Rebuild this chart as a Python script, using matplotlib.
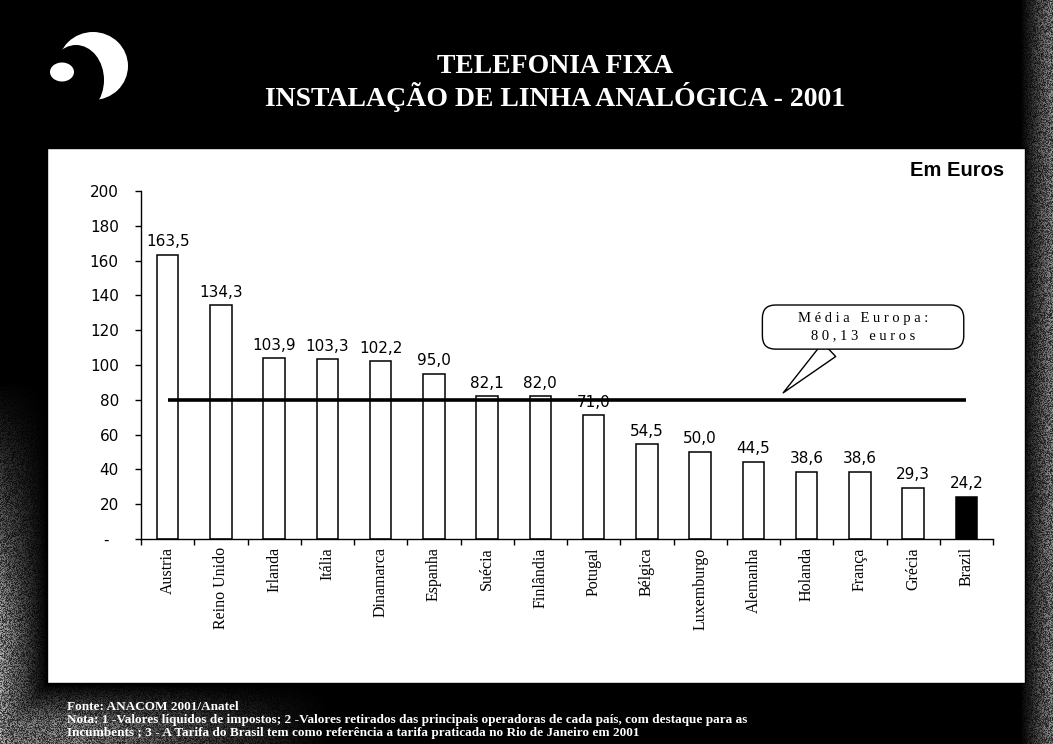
import numpy as np
import matplotlib
matplotlib.use("Agg")
import matplotlib.pyplot as plt
from matplotlib.patches import Rectangle, Ellipse

paises = ["Austria", "Reino Unido", "Irlanda", "Itália", "Dinamarca", "Espanha",
          "Suécia", "Finlândia", "Potugal", "Bélgica", "Luxemburgo", "Alemanha",
          "Holanda", "França", "Grécia", "Brazil"]
valores = [163.5, 134.3, 103.9, 103.3, 102.2, 95.0, 82.1, 82.0, 71.0, 54.5,
           50.0, 44.5, 38.6, 38.6, 29.3, 24.2]
media_europa = 80.13
yticks = [0, 20, 40, 60, 80, 100, 120, 140, 160, 180, 200]
ytick_labels = ["-  ", "20", "40", "60", "80", "100", "120", "140", "160", "180", "200"]

W, H = 1053, 744
fig = plt.figure(figsize=(W / 100, H / 100), dpi=100, facecolor="black")

# slide background in pixel coordinates
bg = fig.add_axes([0, 0, 1, 1], zorder=0)
bg.set_xlim(0, W)
bg.set_ylim(H, 0)
bg.axis("off")

# grainy scan edges
rng = np.random.default_rng(3)
xx, yy = np.meshgrid(np.arange(W), np.arange(H))
left = np.clip((47 - xx) / 47, 0, 1) * np.clip((yy - 380) / 250, 0, 1)
right = np.clip((xx - 1020) / 30, 0, 1) * 0.8
bottom = np.clip((yy - 683) / 40, 0, 1) * np.clip((330 - xx) / 250, 0, 1)
mask = np.maximum(np.maximum(left, right), bottom * 0.8)
tex = mask * rng.uniform(0.15, 0.75, size=(H, W))
bg.imshow(tex, cmap="gray", vmin=0, vmax=1, extent=(0, W, H, 0),
          aspect="auto", interpolation="nearest", zorder=0)

# white chart panel
bg.add_patch(Rectangle((47, 148), 978, 535, facecolor="white",
                       edgecolor="black", linewidth=1, zorder=1))

# logo
bg.add_patch(Ellipse((93, 66), 70, 68, facecolor="white", edgecolor="none", zorder=2))
bg.add_patch(Ellipse((76, 80), 56, 70, facecolor="black", edgecolor="none", zorder=3))
bg.add_patch(Ellipse((62, 72), 24, 19, facecolor="white", edgecolor="none", zorder=4))

fig.text(0.527, 0.911, "TELEFONIA FIXA", color="white", ha="center", va="center",
         fontsize=20, fontweight="bold", family="Liberation Serif")
fig.text(0.527, 0.869, "INSTALAÇÃO DE LINHA ANALÓGICA - 2001", color="white",
         ha="center", va="center", fontsize=20, fontweight="bold",
         family="Liberation Serif")
fig.text(0.954, 0.7715, "Em Euros", ha="right", va="center", fontsize=14.5,
         fontweight="bold", family="Liberation Sans")

notas = ["Fonte: ANACOM 2001/Anatel",
         "Nota: 1 -Valores líquidos de impostos; 2 -Valores retirados das principais "
         "operadoras de cada país, com destaque para as",
         "Incumbents ; 3 - A Tarifa do Brasil tem como referência a tarifa praticada "
         "no Rio de Janeiro em 2001"]
for i, linha in enumerate(notas):
    fig.text(0.0636, 0.050 - i * 0.0175, linha, color="white", ha="left",
             va="center", fontsize=9.5, fontweight="bold", family="Liberation Serif")

# bar chart
ax = fig.add_axes([141 / W, 1 - 539 / H, 852 / W, 348 / H], zorder=2)
ax.patch.set_alpha(0)
x = np.arange(len(paises))
cores = ["white"] * (len(paises) - 1) + ["black"]
ax.bar(x, valores, width=0.4, color=cores, edgecolor="black",
       linewidth=1.1, zorder=2)
for xi, v in zip(x, valores):
    ax.annotate(f"{v:.1f}".replace(".", ","), (xi, v), xytext=(0, 4),
                textcoords="offset points", ha="center", va="bottom",
                fontsize=11, family="DejaVu Sans")

ax.hlines(media_europa, x[0], x[-1], color="black", linewidth=2.6, zorder=3)

ax.annotate("        M é d i a   E u r o p a :        \n8 0 , 1 3   e u r o s",
            xy=(11.56, 84), xytext=(13.06, 121.8),
            ha="center", va="center", multialignment="center",
            fontsize=10.5, family="Liberation Serif", linespacing=1.5,
            bbox=dict(boxstyle="round,pad=0.45,rounding_size=0.9", fc="white",
                      ec="black", lw=1),
            arrowprops=dict(arrowstyle="wedge,tail_width=1.3", fc="white",
                            ec="black", lw=1, relpos=(0.36, 0.0),
                            shrinkA=0, shrinkB=0),
            zorder=4)

ax.set_xlim(-0.5, len(paises) - 0.5)
ax.set_ylim(0, 200)
ax.set_yticks(yticks)
ax.set_yticklabels(ytick_labels, fontsize=11, family="DejaVu Sans")
ax.tick_params(axis="y", direction="out", length=4, width=1, pad=12)
ax.set_xticks(x)
ax.set_xticklabels(paises, rotation=90, fontsize=11.5, family="Liberation Serif")
ax.tick_params(axis="x", which="major", length=0, pad=6)
ax.set_xticks(np.arange(-0.5, len(paises)), minor=True)
ax.tick_params(axis="x", which="minor", direction="out", length=4, width=1)
for s in ["top", "right"]:
    ax.spines[s].set_visible(False)
for s in ["left", "bottom"]:
    ax.spines[s].set_linewidth(1)

fig.savefig("out.png", dpi=100, facecolor="black")
